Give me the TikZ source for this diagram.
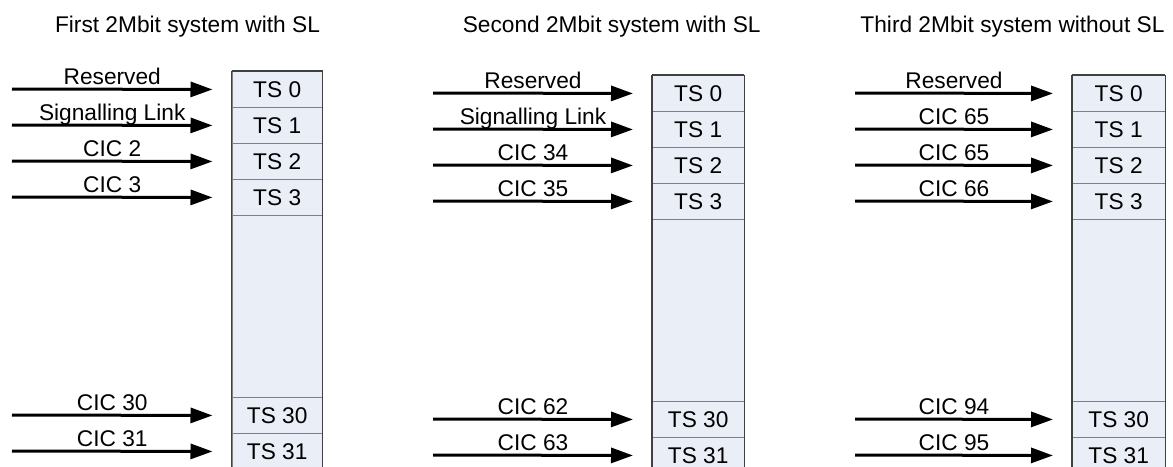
\documentclass[tikz,border=0pt]{standalone}
\usepackage{fontspec}
\setmainfont{Liberation Sans}
\usetikzlibrary{arrows.meta}
\definecolor{cellfill}{HTML}{E9EEF7}
\definecolor{cellline}{HTML}{808080}
\definecolor{frameline}{HTML}{404040}
\tikzset{
  cell/.style={draw=cellline, line width=0.9pt, fill=cellfill, minimum height=36pt, inner sep=0pt, anchor=north west},
  blankcell/.style={draw=cellline, line width=0.9pt, fill=cellfill, minimum height=182pt, inner sep=0pt, anchor=north west},
  frame/.style={draw=frameline, line width=1.1pt},
  sig/.style={line width=3pt, -{Triangle[length=22pt,width=15pt]}},
  lbl/.style={anchor=base, yshift=5pt, inner sep=0pt},
  title/.style={anchor=base, inner sep=0pt},
}
% #1 prefix, #2 box left x, #3 top y, #4 box width, #5 arrow start x, #6 rows n/offset/label
\newcommand{\tscolumn}[6]{%
  \foreach \n/\o/\l in {#6}{%
    \node[cell, minimum width=#4pt] (#1\n) at (#2, #3+\o) {TS \n};
    \coordinate (#1s\n) at (#5, #3+\o+18);
    \draw[sig] (#1s\n) -- ([xshift=-19pt]#1\n.west) node[midway, lbl] {\l};
  }
  \node[blankcell, minimum width=#4pt] (#1b) at (#2, #3+144) {};
  \draw[frame] (#10.north west) -- (#131.south west) (#10.north east) -- (#131.south east) (#10.north west) -- (#10.north east);
}
\begin{document}
\begin{tikzpicture}[x=1pt, y=-1pt, font=\fontsize{22.7}{27}\selectfont]
\useasboundingbox (0,0) rectangle (1173,466);
\clip (0,0) rectangle (1173,466);
\fill[white] (0,0) rectangle (1173,466);

\node[title] (t1) at (187.5,32) {First 2Mbit system with SL};
\node[title] (t2) at (611.7,32) {Second 2Mbit system with SL};
\node[title] (t3) at (1012.5,32) {Third 2Mbit system without SL};

\tscolumn{A}{231.5}{71}{90.5}{12}{0/0/Reserved, 1/36/Signalling Link, 2/72/CIC 2, 3/108/CIC 3, 30/326/CIC 30, 31/362/CIC 31}
\tscolumn{B}{652}{75}{91.5}{433}{0/0/Reserved, 1/36/Signalling Link, 2/72/CIC 34, 3/108/CIC 35, 30/326/CIC 62, 31/362/CIC 63}
\tscolumn{C}{1072}{75}{92.5}{855}{0/0/Reserved, 1/36/CIC 65, 2/72/CIC 65, 3/108/CIC 66, 30/326/CIC 94, 31/362/CIC 95}
\end{tikzpicture}
\end{document}
